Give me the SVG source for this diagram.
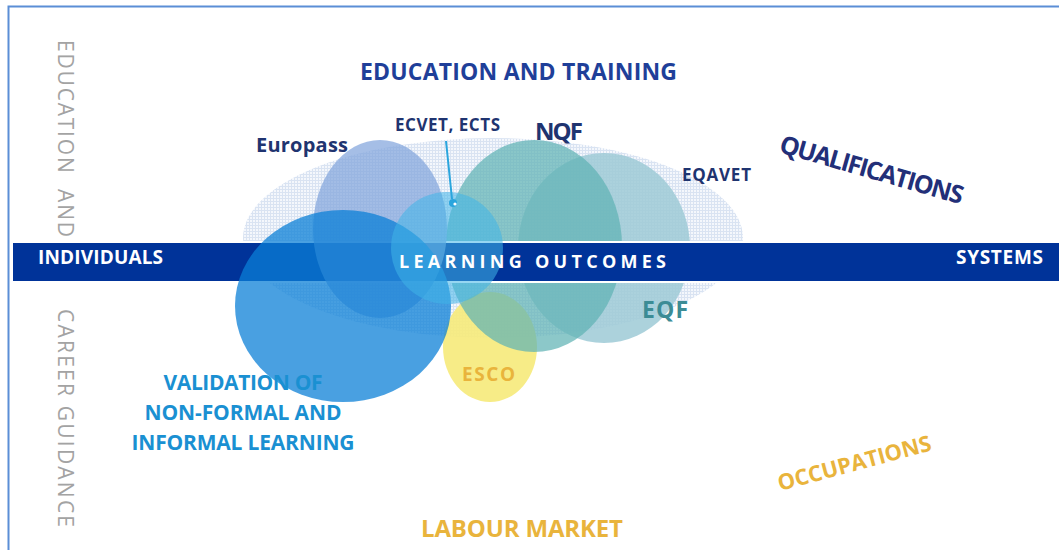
<svg xmlns="http://www.w3.org/2000/svg" width="1059" height="550" viewBox="0 0 1059 550">
  <defs>
    <!-- fine grid texture for the wide qualifications field -->
    <pattern id="grid" width="3" height="3" patternUnits="userSpaceOnUse">
      <rect width="3" height="3" fill="#f4f7fc"/>
      <path d="M0 0.5H3M0.5 0V3" stroke="#d9e3f2" stroke-width="1"/>
    </pattern>
    <style>
      .lbl { font-family: "Open Sans", "Liberation Sans", sans-serif; font-weight: bold; }
      .navy { fill: #1f3470; }
      .white { fill: #ffffff; }
      .gold { fill: #e9b43c; }
      .side { font-family: "Open Sans", "Liberation Sans", sans-serif; font-size: 21px; fill: #a3a3a3; }
    </style>
  </defs>

  <rect width="1059" height="550" fill="#ffffff"/>

  <!-- frame -->
  <path d="M8.5 550V6.5H1059" fill="none" stroke="#5b8ed6" stroke-width="2"/>

  <!-- wide qualifications field -->
  <g id="qualifications-field">
    <ellipse cx="493" cy="238" rx="250" ry="100" fill="url(#grid)"/>
  </g>

  <!-- instruments lying under the band -->
  <g id="eqf">
    <ellipse cx="604" cy="248" rx="86" ry="95" fill="#9ecad6" fill-opacity="0.85"/>
  </g>
  <g id="esco">
    <ellipse cx="490" cy="347" rx="47" ry="55" fill="#f6ea7a" fill-opacity="0.9"/>
  </g>
  <g id="nqf">
    <ellipse cx="534" cy="246" rx="88" ry="106" fill="#5fb3b4" fill-opacity="0.72"/>
  </g>

  <!-- learning outcomes band -->
  <g id="band">
    <rect x="12" y="242" width="1049" height="40" fill="#003399" stroke="#ffffff" stroke-width="2"/>
  </g>

  <!-- instruments lying over the band -->
  <g id="europass">
    <ellipse cx="380" cy="229" rx="67" ry="89" fill="#7fa3dc" fill-opacity="0.7"/>
  </g>
  <g id="validation">
    <ellipse cx="343" cy="306" rx="108" ry="96" fill="#0a7fd6" fill-opacity="0.74"/>
  </g>
  <g id="ecvet-ects">
    <circle cx="447" cy="248" r="56" fill="#3fb4e8" fill-opacity="0.55"/>
  </g>

  <!-- connectors -->
  <g id="connectors">
    <line x1="446" y1="141" x2="452" y2="199" stroke="#2aa5dd" stroke-width="2"/>
    <circle cx="453" cy="203" r="4" fill="#2aa5dd"/>
    <circle cx="455" cy="204" r="1.6" fill="#ffffff"/>
  </g>

  <!-- labels -->
  <g id="labels">
    <text class="lbl" x="360" y="80" font-size="23" textLength="317" fill="#1f3f99">EDUCATION AND TRAINING</text>
    <text class="lbl navy" x="256" y="152" font-size="20" textLength="92">Europass</text>
    <text class="lbl navy" x="395" y="131" font-size="17" textLength="105">ECVET, ECTS</text>
    <text class="lbl navy" x="535" y="140" font-size="24" textLength="48">NQF</text>
    <text class="lbl navy" x="682" y="181" font-size="17" textLength="69">EQAVET</text>
    <text class="lbl" transform="translate(778 152) rotate(16)" font-size="25" textLength="190" fill="#232f78">QUALIFICATIONS</text>

    <text class="lbl white" x="38" y="264" font-size="19" textLength="125">INDIVIDUALS</text>
    <text class="lbl white" x="399" y="268" font-size="18" textLength="267">LEARNING OUTCOMES</text>
    <text class="lbl white" x="956" y="264" font-size="19" textLength="87">SYSTEMS</text>

    <text class="lbl" x="642" y="318" font-size="23" textLength="46" fill="#3c8c95">EQF</text>
    <text class="lbl gold" x="462" y="381" font-size="19" textLength="53">ESCO</text>

    <text class="lbl" x="243" y="390" font-size="21" text-anchor="middle" textLength="159" fill="#1a90d2">VALIDATION OF</text>
    <text class="lbl" x="243" y="420" font-size="21" text-anchor="middle" textLength="197" fill="#1a90d2">NON-FORMAL AND</text>
    <text class="lbl" x="243" y="450" font-size="21" text-anchor="middle" textLength="223" fill="#1a90d2">INFORMAL LEARNING</text>

    <text class="lbl gold" transform="translate(780 491) rotate(-15)" font-size="22" textLength="158">OCCUPATIONS</text>
    <text class="lbl gold" x="421" y="537" font-size="24" textLength="202">LABOUR MARKET</text>

    <text class="side" transform="translate(58 40) rotate(90)" textLength="197" xml:space="preserve">EDUCATION  AND</text>
    <text class="side" transform="translate(58 309) rotate(90)" textLength="218">CAREER GUIDANCE</text>
  </g>
</svg>
